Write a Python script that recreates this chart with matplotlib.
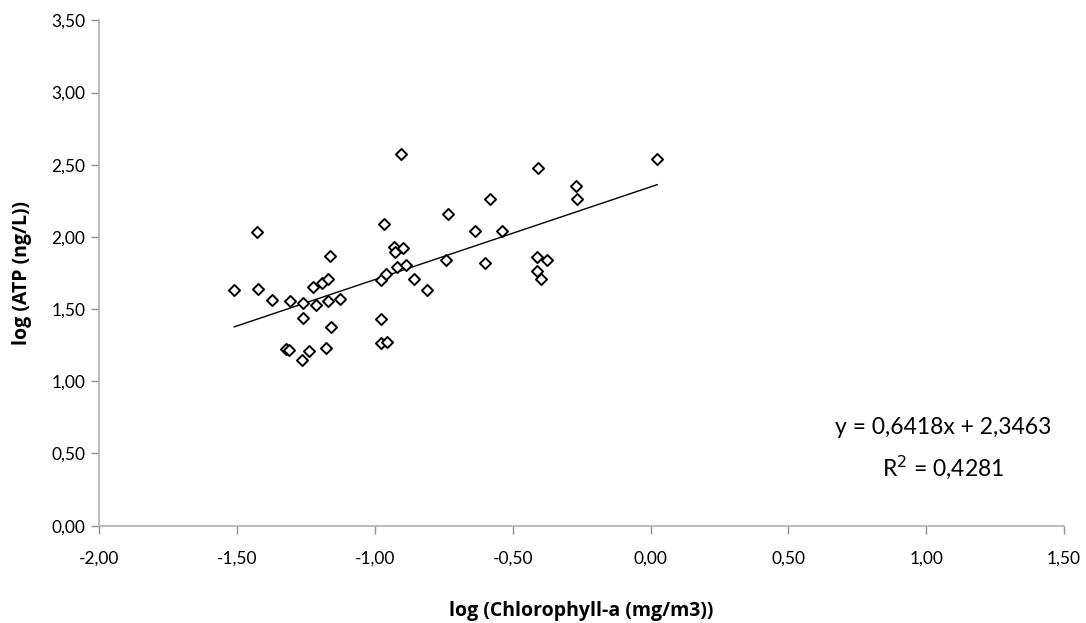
import matplotlib
matplotlib.use("Agg")
import matplotlib.pyplot as plt
import numpy as np
from matplotlib.ticker import FuncFormatter, MultipleLocator

# Data
log_chl = [-0.905, -1.428, -0.967, -1.163, -0.932, -0.899, -0.926, -1.510, -1.424,
           -1.374, -1.307, -1.262, -1.224, -1.193, -1.170, -1.215, -1.170, -1.127,
           -1.262, -1.160, -1.322, -1.313, -1.238, -1.264, -1.179, -0.977, -0.977,
           -0.955, -0.978, -0.959, -0.919, -0.886, -0.859, -0.812, -0.734, -0.743,
           -0.635, -0.581, -0.540, -0.599, -0.410, -0.413, -0.374, -0.413, -0.396,
           -0.271, -0.267, 0.024]
log_atp = [2.574, 2.034, 2.089, 1.870, 1.932, 1.923, 1.895, 1.634, 1.641,
           1.563, 1.554, 1.542, 1.651, 1.683, 1.711, 1.528, 1.554, 1.572,
           1.440, 1.374, 1.224, 1.218, 1.212, 1.148, 1.229, 1.429, 1.267,
           1.270, 1.699, 1.741, 1.789, 1.803, 1.706, 1.632, 2.162, 1.840,
           2.040, 2.260, 2.044, 1.818, 2.479, 1.863, 1.843, 1.766, 1.711,
           2.353, 2.265, 2.537]
slope = 0.6418
intercept = 2.3463
r_squared = 0.4281

x_label = "log (Chlorophyll-a (mg/m3))"
y_label = "log (ATP (ng/L))"

plt.rcParams['font.family'] = ['Lato', 'DejaVu Sans']

fig = plt.figure(figsize=(10.86, 6.23), dpi=100)
ax = fig.add_axes([0.0914, 0.1562, 0.9797 - 0.0914, 0.9674 - 0.1562])

ax.scatter(log_chl, log_atp, marker='D', s=32, facecolors='white',
           edgecolors='black', linewidths=1.4, zorder=3)

xl = np.array([min(log_chl), max(log_chl)])
ax.plot(xl, slope * xl + intercept, color='black', linewidth=1.0, zorder=2)

ax.set_xlim(-2.0, 1.5)
ax.set_ylim(0.0, 3.5)
ax.xaxis.set_major_locator(MultipleLocator(0.5))
ax.yaxis.set_major_locator(MultipleLocator(0.5))
fmt = FuncFormatter(lambda v, p: f"{v:.2f}".replace('.', ',').replace('-0,00', '0,00'))
ax.xaxis.set_major_formatter(fmt)
ax.yaxis.set_major_formatter(fmt)

for s in ['top', 'right']:
    ax.spines[s].set_visible(False)
for s in ['left', 'bottom']:
    ax.spines[s].set_color('#b0b0b0')
    ax.spines[s].set_linewidth(1.2)
ax.tick_params(axis='both', direction='out', length=6, width=1.0, color='#909090',
               labelsize=12.5, labelcolor='black')
ax.tick_params(axis='x', pad=12)
ax.tick_params(axis='y', pad=4)

lab_font = dict(family=['Open Sans', 'DejaVu Sans'], fontsize=14, fontweight='bold')
ax.set_xlabel(x_label, labelpad=25, **lab_font)
ax.set_ylabel(y_label, labelpad=14, **lab_font)

eq = f"y = {slope:.4f}x + {intercept:.4f}".replace('.', ',')
r2 = f"R$^2$ = {r_squared:.4f}".replace('.', ',')
fig.text(943 / 1086, 1 - 427 / 623, eq, ha='center', va='center', fontsize=16.5)
fig.text(943 / 1086, 1 - 467 / 623, r2, ha='center', va='center', fontsize=16.5)

fig.savefig("out.png", dpi=100)
